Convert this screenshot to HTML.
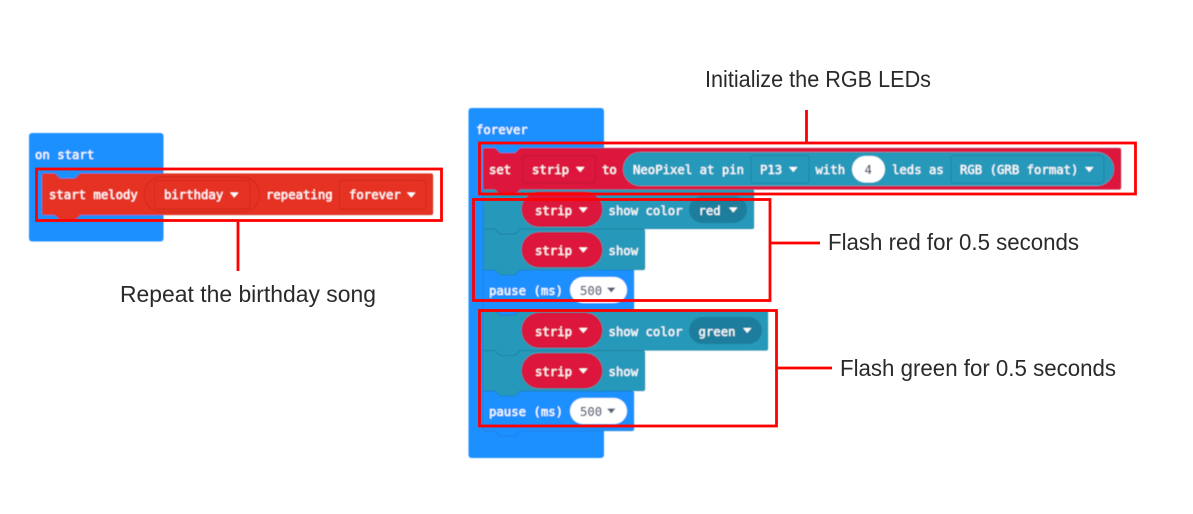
<!DOCTYPE html>
<html><head><meta charset="utf-8"><style>
html,body{margin:0;padding:0;background:#fff;width:1193px;height:514px;overflow:hidden}
svg{display:block}
.m{font-family:"DejaVu Sans Mono","Liberation Mono",monospace;font-size:12.3px;fill:#fff;font-weight:400;stroke:#fff;stroke-width:.25}
.d{fill:#575e75;stroke:#575e75}
.l{font-family:"Liberation Sans",sans-serif;font-size:23.5px;fill:#2a2a2a}
.e{stroke-opacity:.1;stroke:#000;stroke-width:1}
</style></head><body>
<svg width="1193" height="514" viewBox="0 0 1193 514" xmlns="http://www.w3.org/2000/svg">
<defs><filter id="b" x="-2%" y="-2%" width="104%" height="104%"><feGaussianBlur stdDeviation="0.4"/></filter></defs>
<g filter="url(#b)">
<!-- on start -->
<rect x="29" y="133" width="134.500" height="108.500" rx="3" fill="#1e90ff"/>
<text class="m" x="35" y="159">on start</text>
<path class="e" fill="#e63022" d="M44,173.500H55l5,5h15l5,-5H431q2,0 2,2V213q0,2 -2,2H80l-5,5h-15l-5,-5H44q-2,0 -2,-2V175.500q0,-2 2,-2z"/>
<text class="m" x="49" y="199">start melody</text>
<rect x="144.500" y="177" width="115" height="35" rx="17" fill="#e63022" stroke="#cf2b1f" stroke-width="1"/>
<rect x="154.500" y="180.500" width="95.500" height="28.500" rx="3" fill="#e63022" stroke="#cf2b1f" stroke-width="1"/>
<text class="m" x="164" y="199">birthday</text>
<path d="M230,192.500h8.500l-4.250,5z" fill="#fff"/>
<text class="m" x="266" y="199">repeating</text>
<rect x="339.500" y="180.500" width="86.500" height="28.500" rx="3" fill="#e63022" stroke="#cf2b1f" stroke-width="1"/>
<text class="m" x="349" y="199">forever</text>
<path d="M407,192.500h8.500l-4.250,5z" fill="#fff"/>

<!-- forever -->
<rect x="468.500" y="108" width="135.500" height="350" rx="3" fill="#1e90ff"/>
<text class="m" x="476" y="134">forever</text>

<!-- second group, bottom up -->
<path class="e" fill="#1e90ff" d="M485,391H632q2,0 2,2V429q0,2 -2,2H520l-5,5h-15l-5,-5H485q-2,0 -2,-2V393q0,-2 2,-2z"/>
<text class="m" x="489" y="416">pause (ms)</text>
<rect x="570" y="398" width="57" height="26" rx="13" fill="#fff"/>
<text class="m d" x="580" y="416">500</text>
<path d="M607,408.500h8.500l-4.250,5z" fill="#575e75"/>

<path class="e" fill="#2599bb" d="M485,350.500H495l5,5h15l5,-5H643q2,0 2,2V389q0,2 -2,2H520l-5,5h-15l-5,-5H485q-2,0 -2,-2V352.500q0,-2 2,-2z"/>
<rect x="522" y="353.500" width="80" height="34.500" rx="17" fill="#dc143c" stroke="#c01235" stroke-width=".7"/>
<text class="m" x="535" y="376">strip</text>
<path d="M579,368.500h8.500l-4.250,5z" fill="#fff"/>
<text class="m" x="608.500" y="376">show</text>

<path class="e" fill="#2599bb" d="M485,310H495l5,5h15l5,-5H766q2,0 2,2V348.500q0,2 -2,2H520l-5,5h-15l-5,-5H485q-2,0 -2,-2V312q0,-2 2,-2z"/>
<rect x="522" y="313" width="80" height="34.500" rx="17" fill="#dc143c" stroke="#c01235" stroke-width=".7"/>
<text class="m" x="535" y="336">strip</text>
<path d="M579,328h8.500l-4.250,5z" fill="#fff"/>
<text class="m" x="608.500" y="336">show color</text>
<rect x="689" y="317" width="73" height="27" rx="13.500" fill="#1f7e9c"/>
<text class="m" x="698.500" y="336">green</text>
<path d="M743,328h8.500l-4.250,5z" fill="#fff"/>

<!-- first group, bottom up -->
<path class="e" fill="#1e90ff" d="M485,269H632q2,0 2,2V308q0,2 -2,2H520l-5,5h-15l-5,-5H485q-2,0 -2,-2V271q0,-2 2,-2z"/>
<text class="m" x="489" y="295">pause (ms)</text>
<rect x="570" y="277" width="57" height="26" rx="13" fill="#fff"/>
<text class="m d" x="580" y="295">500</text>
<path d="M607,287.500h8.500l-4.250,5z" fill="#575e75"/>

<path class="e" fill="#2599bb" d="M485,229H495l5,5h15l5,-5H643q2,0 2,2V268q0,2 -2,2H520l-5,5h-15l-5,-5H485q-2,0 -2,-2V231q0,-2 2,-2z"/>
<rect x="522" y="232.500" width="80" height="34.500" rx="17" fill="#dc143c" stroke="#c01235" stroke-width=".7"/>
<text class="m" x="535" y="255">strip</text>
<path d="M579,247.500h8.500l-4.250,5z" fill="#fff"/>
<text class="m" x="608.500" y="255">show</text>

<path class="e" fill="#2599bb" d="M485,189H752q2,0 2,2V227q0,2 -2,2H520l-5,5h-15l-5,-5H485q-2,0 -2,-2V191q0,-2 2,-2z"/>
<rect x="522" y="192" width="80" height="34.500" rx="17" fill="#dc143c" stroke="#c01235" stroke-width=".7"/>
<text class="m" x="535" y="215">strip</text>
<path d="M579,207.500h8.500l-4.250,5z" fill="#fff"/>
<text class="m" x="608.500" y="215">show color</text>
<rect x="689" y="196" width="58" height="27" rx="13.500" fill="#1f7e9c"/>
<text class="m" x="698.500" y="215">red</text>
<path d="M729,207.500h8.500l-4.250,5z" fill="#fff"/>

<!-- set -->
<path class="e" fill="#dc143c" d="M485,148H495l5,5h15l5,-5H1119q2,0 2,2V187.500q0,2 -2,2H520l-5,5h-15l-5,-5H485q-2,0 -2,-2V150q0,-2 2,-2z"/>
<text class="m" x="489" y="174">set</text>
<rect x="522.500" y="155.500" width="73" height="27.500" rx="3" fill="#dc143c" stroke="#c01235" stroke-width="1"/>
<text class="m" x="532" y="174">strip</text>
<path d="M576,167h8.500l-4.250,5z" fill="#fff"/>
<text class="m" x="602" y="174">to</text>
<rect x="623" y="152" width="491" height="34" rx="17" fill="#2599bb"/>
<text class="m" x="633" y="174">NeoPixel at pin</text>
<rect x="751" y="155.500" width="58" height="27.500" rx="3" fill="#2599bb" stroke="#1f85a4" stroke-width="1"/>
<text class="m" x="760" y="174">P13</text>
<path d="M789,167h8.500l-4.250,5z" fill="#fff"/>
<text class="m" x="815.500" y="174">with</text>
<rect x="852" y="156" width="33" height="26.500" rx="13.250" fill="#fff"/>
<text class="m d" x="864.500" y="174">4</text>
<text class="m" x="892" y="174">leds as</text>
<rect x="951" y="155.500" width="153" height="27.500" rx="3" fill="#2599bb" stroke="#1f85a4" stroke-width="1"/>
<text class="m" x="960" y="174">RGB (GRB format)</text>
<path d="M1085,167h8.500l-4.250,5z" fill="#fff"/>
</g>

<!-- annotations -->
<g fill="none" stroke="#fe0000" stroke-width="2.800">
<rect x="36.500" y="169" width="405" height="51.500"/>
<rect x="479.500" y="143" width="656" height="51"/>
<rect x="473.500" y="199.500" width="296.500" height="101"/>
<rect x="479.500" y="310.500" width="297" height="115.500"/>
<path d="M238,222V271M806.500,110V142M770,243H820M777,368H832"/>
</g>
<text class="l" x="705" y="87" textLength="226" lengthAdjust="spacingAndGlyphs">Initialize the RGB LEDs</text>
<text class="l" x="120" y="302" textLength="256" lengthAdjust="spacingAndGlyphs">Repeat the birthday song</text>
<text class="l" x="828" y="250" textLength="251" lengthAdjust="spacingAndGlyphs">Flash red for 0.5 seconds</text>
<text class="l" x="840" y="376" textLength="276" lengthAdjust="spacingAndGlyphs">Flash green for 0.5 seconds</text>
</svg>
</body></html>
